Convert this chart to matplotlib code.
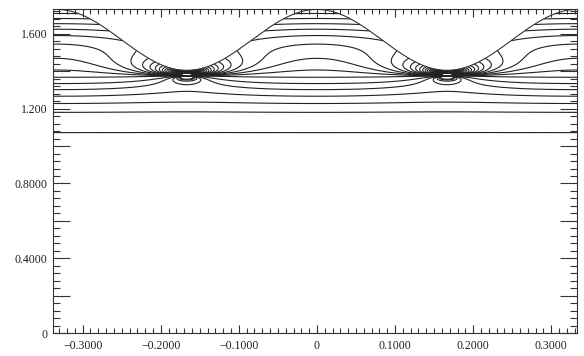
import numpy as np
import matplotlib
matplotlib.use("Agg")
import matplotlib.pyplot as plt
from matplotlib.ticker import MultipleLocator, FixedLocator, FixedFormatter

# axis ranges / ticks
x_range = [-0.338, 0.333]
y_range = [0.0, 1.736]
x_ticks = [-0.3, -0.2, -0.1, 0.0, 0.1, 0.2, 0.3]
x_labels = ['\u22120.3000', '\u22120.2000', '\u22120.1000', '0', '0.1000', '0.2000', '0.3000']
y_ticks = [0.0, 0.2, 0.4, 0.6, 0.8, 1.0, 1.2, 1.4, 1.6]
y_labels = ['0', '', '0.4000', '', '0.8000', '', '1.200', '', '1.600']

# wavy top surface
wave_mean = 1.568
wave_amp = 0.163
wave_period = 1.0 / 3.0

# singular points under the troughs
src_x = [-0.5, -1.0 / 6.0, 1.0 / 6.0, 0.5]
src_y = 1.375
dipole_up = 0.55
dipole_down = 0.10
dipole_reach = 0.20
dipole_depth = 0.15

# background gradient profile
grad_low = 30.0
low_mid, low_w = 1.16, 0.04
grad_mid = 1.0
grad_top = 40.0
top_mid, top_w = 1.56, 0.04

# contour levels
low_y = 1.072
level_step = 1.0
n_levels = 45


def surface(x):
    return wave_mean + wave_amp * np.cos(2 * np.pi * x / wave_period)


def sig(t):
    return 1.0 / (1.0 + np.exp(-t))


xs = np.linspace(x_range[0], x_range[1], 1801)
ys = np.linspace(0.95, y_range[1], 1401)
X, Y = np.meshgrid(xs, ys)

# background, integrated along y
bgrad = (grad_low * sig((ys - low_mid) / low_w) * sig((src_y - ys) / 0.01)
         + grad_mid * sig((ys - src_y) / 0.01)
         + grad_top * sig((ys - top_mid) / top_w))
bg = np.concatenate([[0.0], np.cumsum(0.5 * (bgrad[1:] + bgrad[:-1]) * np.diff(ys))])

# local dipoles, damped sideways (and downwards)
below = Y < src_y
D = np.zeros_like(X)
for sx in src_x:
    dx = X - sx
    dy = Y - src_y
    r2 = dx ** 2 + dy ** 2 + 1e-12
    damp = np.exp(-dx ** 2 / dipole_reach ** 2)
    damp = np.where(below, damp * np.exp(-dy ** 2 / dipole_depth ** 2), damp)
    D += dy / r2 * damp
D = np.where(below, dipole_down, dipole_up) * D

F = bg[:, None] + D
ix0 = np.argmin(np.abs(xs))
f0 = np.interp(low_y, ys, F[:, ix0])
levels = f0 + level_step * np.arange(n_levels)

F = np.ma.masked_where(Y > surface(X), F)

plt.rcParams['font.family'] = ['Liberation Serif', 'DejaVu Serif']
fig = plt.figure(figsize=(5.84, 3.56), dpi=100)
ax = fig.add_axes([53 / 584, 23 / 356, 524 / 584, 324.5 / 356])

ax.contour(X, Y, F, levels=levels, colors='#222222', linewidths=0.8,
           linestyles='solid')
ax.plot(xs, surface(xs), color='#333333', lw=0.8)

ax.set_xlim(x_range)
ax.set_ylim(y_range)

ax.xaxis.set_major_locator(FixedLocator(x_ticks))
ax.xaxis.set_major_formatter(FixedFormatter(x_labels))
ax.xaxis.set_minor_locator(MultipleLocator(0.01))
ax.yaxis.set_major_locator(FixedLocator(y_ticks))
ax.yaxis.set_major_formatter(FixedFormatter(y_labels))
ax.yaxis.set_minor_locator(MultipleLocator(0.04))

ax.tick_params(axis='both', which='both', direction='in', top=True, right=True,
               colors='#333333', labelcolor='#222222', labelsize=8.5, width=0.8)
ax.tick_params(axis='x', which='major', length=6, pad=5)
ax.tick_params(axis='x', which='minor', length=3.5)
ax.tick_params(axis='y', which='major', length=12, pad=4)
ax.tick_params(axis='y', which='minor', length=5)
for s in ax.spines.values():
    s.set_color('#333333')
    s.set_linewidth(0.8)

fig.savefig('out.png', dpi=100)
